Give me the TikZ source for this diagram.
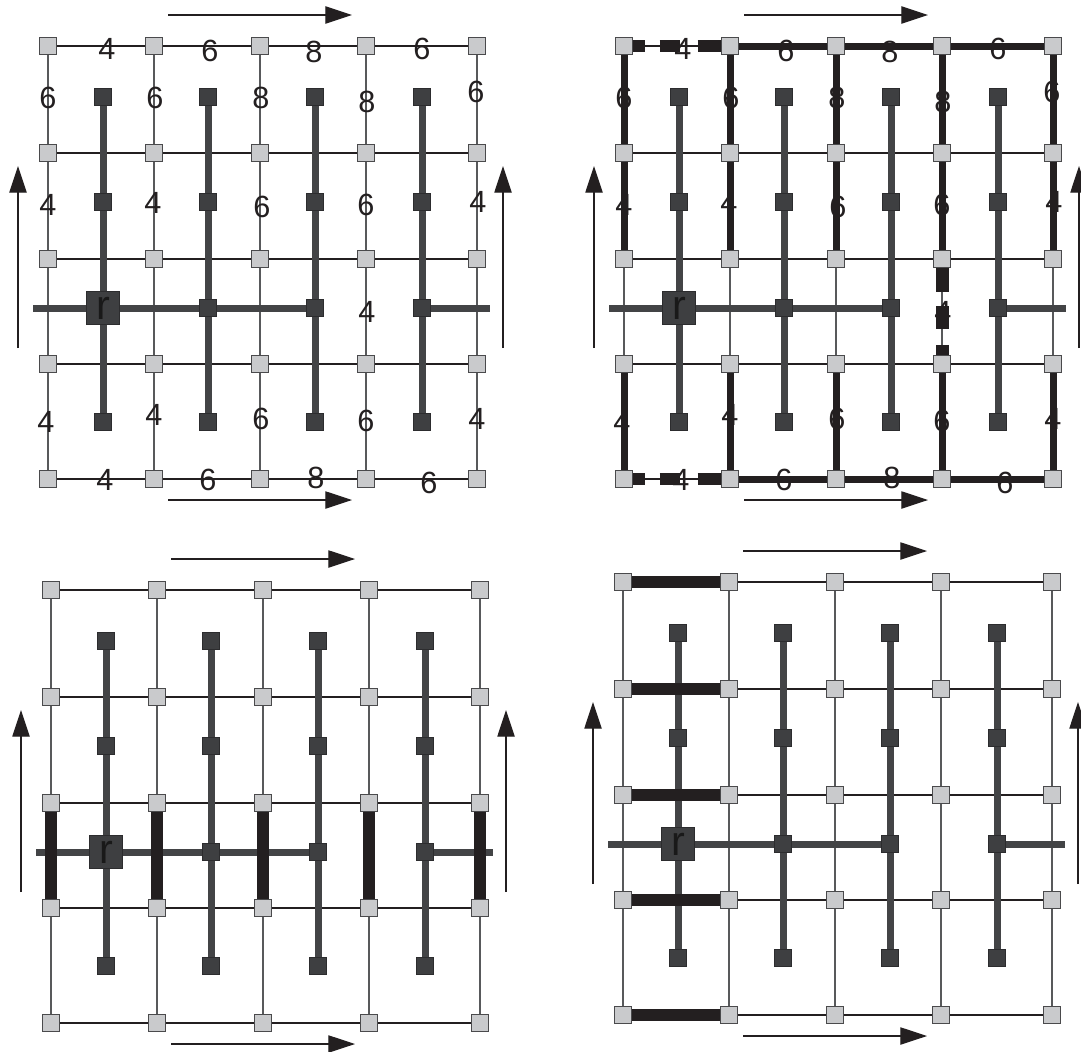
\documentclass[tikz,border=0pt]{standalone}
\usepackage{fontspec}
\setmainfont{Liberation Sans}
\usetikzlibrary{arrows.meta}
\pgfdeclarelayer{gridl}
\pgfdeclarelayer{treel}
\pgfdeclarelayer{boldl}
\pgfsetlayers{gridl,treel,boldl,main}
\definecolor{inkc}{HTML}{231F20}
\definecolor{sqgrey}{HTML}{C9CACC}
\definecolor{sqedge}{HTML}{4A4A4C}
\definecolor{dkgrey}{HTML}{3E3F41}
\definecolor{dkedge}{HTML}{2C2C2E}
\definecolor{treec}{HTML}{434446}
\definecolor{gridv}{HTML}{58595B}
\tikzset{
  gsq/.style={draw=sqedge, fill=sqgrey, line width=0.6pt, minimum size=12.75pt, inner sep=0pt},
  dsq/.style={draw=dkedge, fill=dkgrey, line width=0.4pt, minimum size=12.75pt, inner sep=0pt},
  rootsq/.style={dsq, minimum size=24.75pt, text=black!90, font=\fontsize{31}{31}\selectfont},
  hline/.style={line width=0.95pt, color=inkc},
  vline/.style={line width=0.9pt, color=gridv},
  treeedge/.style={line width=5.25pt, color=treec},
  boldedge/.style={line width=5.25pt, color=inkc},
  dashedge/.style={line width=9pt, color=inkc},
  barv/.style={line width=9pt, color=inkc},
  barh/.style={line width=8.5pt, color=inkc},
  flow/.style={line width=0.8pt, color=inkc, -{Triangle[length=20pt,width=13pt]}},
  lab/.style={font=\fontsize{23}{26}\selectfont, text=inkc, inner sep=0pt}
}
% #1 prefix, #2 shift, #3 extra drawing inside the scope
\newcommand\panel[3]{%
\begin{scope}[shift={#2}]
  \foreach \x [count=\i from 0] in {0,106,212,318,429}{
    \foreach \y [count=\j from 0] in {0,107,213,318,433}{
      \node[gsq] (#1g\i\j) at (\x,\y) {};
    }
  }
  \foreach \x [count=\i from 0] in {55,160,267,374}{
    \foreach \y [count=\j from 0] in {51,156,262,376}{
      \pgfmathtruncatemacro\isroot{(\i==0)&&(\j==2)}
      \ifnum\isroot=1
        \node[rootsq] (#1d\i\j) at (\x,\y) {r};
      \else
        \node[dsq] (#1d\i\j) at (\x,\y) {};
      \fi
    }
  }
  \coordinate (#1tl) at (-15,262);
  \coordinate (#1tr) at (442,262);
  \begin{pgfonlayer}{gridl}
    \foreach \j in {0,...,4}{\draw[hline] (#1g0\j) -- (#1g4\j);}
    \foreach \i in {0,...,4}{\draw[vline] (#1g\i0) -- (#1g\i4);}
  \end{pgfonlayer}
  \begin{pgfonlayer}{treel}
    \foreach \i in {0,...,3}{\draw[treeedge] (#1d\i0.center) -- (#1d\i3.center);}
    \draw[treeedge] (#1tl) -- (#1d22.center);
    \draw[treeedge] (#1d32.center) -- (#1tr);
  \end{pgfonlayer}
  \coordinate (#1a1) at (120,-31);  \coordinate (#1a2) at (304,-31);
  \coordinate (#1b1) at (120,454);  \coordinate (#1b2) at (304,454);
  \coordinate (#1l1) at (-30,302);  \coordinate (#1l2) at (-30,120);
  \coordinate (#1r1) at (455,302);  \coordinate (#1r2) at (455,120);
  \draw[flow] (#1a1) -- (#1a2);
  \draw[flow] (#1b1) -- (#1b2);
  \draw[flow] (#1l1) -- (#1l2);
  \draw[flow] (#1r1) -- (#1r2);
  #3
\end{scope}}
\newcommand\weights[1]{%
  \node[lab] (#1w1) at (59,3) {4};
  \node[lab] (#1w2) at (162,5) {6};
  \node[lab] (#1w3) at (266,6) {8};
  \node[lab] (#1w4) at (374,3) {6};
  \node[lab] (#1w5) at (0,52) {6};
  \node[lab] (#1w6) at (107,52) {6};
  \node[lab] (#1w7) at (213,52) {8};
  \node[lab] (#1w8) at (319,56) {8};
  \node[lab] (#1w9) at (428,46) {6};
  \node[lab] (#1w10) at (0,159) {4};
  \node[lab] (#1w11) at (105,157) {4};
  \node[lab] (#1w12) at (214,161) {6};
  \node[lab] (#1w13) at (318,159) {6};
  \node[lab] (#1w14) at (430,156) {4};
  \node[lab] (#1w15) at (319,266) {4};
  \node[lab] (#1w16) at (-2,376) {4};
  \node[lab] (#1w17) at (106,369) {4};
  \node[lab] (#1w18) at (213,373) {6};
  \node[lab] (#1w19) at (318,375) {6};
  \node[lab] (#1w20) at (429,373) {4};
  \node[lab] (#1w21) at (57,434) {4};
  \node[lab] (#1w22) at (160,434) {6};
  \node[lab] (#1w23) at (268,432) {8};
  \node[lab] (#1w24) at (381,437) {6};
}
\begin{document}
\begin{tikzpicture}[x=0.75pt,y=-0.75pt]
\useasboundingbox (0,0) rectangle (1081,1051);
% top left
\panel{a}{(48,46)}{\weights{a}}
% top right
\panel{b}{(624,46)}{%
  \weights{b}
  \begin{pgfonlayer}{boldl}
    \draw[boldedge] (bg10) -- (bg40);
    \draw[boldedge] (bg14) -- (bg44);
    \foreach \i in {0,...,4}{
      \draw[boldedge] (bg\i0) -- (bg\i2);
      \draw[boldedge] (bg\i3) -- (bg\i4);
    }
    \draw[dashedge, dash pattern=on 9pt off 11pt on 15pt off 13.5pt on 18pt off 0pt] (bg00.east) -- (bg10.west);
    \draw[dashedge, dash pattern=on 9pt off 11pt on 15pt off 13.5pt on 18pt off 0pt] (bg04.east) -- (bg14.west);
    \draw[dashedge, line width=9.75pt, dash pattern=on 18pt off 10.5pt on 17.25pt off 12pt on 10.5pt off 0pt] (bg32.south) -- (bg33.north);
  \end{pgfonlayer}
}
% bottom left
\panel{c}{(51,590)}{%
  \begin{pgfonlayer}{boldl}
    \foreach \i in {0,...,4}{\draw[barv] (cg\i2) -- (cg\i3);}
  \end{pgfonlayer}
}
% bottom right
\panel{d}{(623,582)}{%
  \begin{pgfonlayer}{boldl}
    \foreach \j in {0,...,4}{\draw[barh] (dg0\j) -- (dg1\j);}
  \end{pgfonlayer}
}
\end{tikzpicture}
\end{document}
